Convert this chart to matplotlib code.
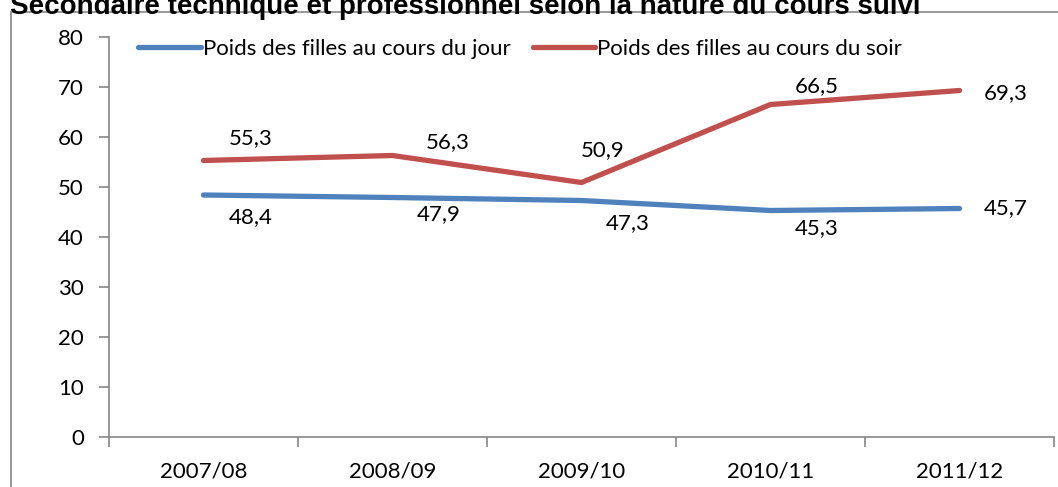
import numpy as np
import matplotlib.pyplot as plt
from matplotlib.patches import Rectangle
from matplotlib.ticker import FixedLocator

# Data
years = ['2007/08', '2008/09', '2009/10', '2010/11', '2011/12']
jour = [48.4, 47.9, 47.3, 45.3, 45.7]
soir = [55.3, 56.3, 50.9, 66.5, 69.3]

# label offsets in points (hand placed like in the original)
off_jour = [(34, -16), (33, -12), (33, -16), (33, -13), (33, 0)]
off_soir = [(34, 16), (40, 10), (15, 23), (33, 13), (33, -2)]

plt.rcParams['font.family'] = ['Lato', 'DejaVu Sans']
grey = '#868686'
fs = 16

fig = plt.figure(figsize=(10.58, 4.87), dpi=100)

# outer chart frame (cut off at right/bottom)
fig.patches.append(Rectangle((11 / 1058, -0.1), 1.2, 1 - 12 / 487 + 0.1,
                             transform=fig.transFigure, fill=False,
                             edgecolor=grey, linewidth=1.2))

# title, clipped at the top of the picture
fig.text(10 / 1058, 1 - 14 / 487,
         'Secondaire technique et professionnel selon la nature du cours suivi',
         fontsize=20, fontweight='bold', family='Liberation Sans',
         ha='left', va='baseline')

ax = fig.add_axes([109 / 1058, 1 - 437 / 487, 945 / 1058, 400 / 487])
x = np.arange(len(years))
ax.plot(x, jour, color='#4F81BD', linewidth=3.8, solid_capstyle='round',
        label='Poids des filles au cours du jour')
ax.plot(x, soir, color='#C0504D', linewidth=3.8, solid_capstyle='round',
        label='Poids des filles au cours du soir')

for i in range(len(years)):
    ax.annotate(f'{jour[i]:.1f}'.replace('.', ','), (x[i], jour[i]),
                xytext=off_jour[i], textcoords='offset points',
                ha='center', va='center', fontsize=fs)
    ax.annotate(f'{soir[i]:.1f}'.replace('.', ','), (x[i], soir[i]),
                xytext=off_soir[i], textcoords='offset points',
                ha='center', va='center', fontsize=fs)

ax.set_xlim(-0.5, 4.5)
ax.set_ylim(0, 80)
ax.set_yticks(np.arange(0, 81, 10))
ax.xaxis.set_major_locator(FixedLocator(np.arange(-0.5, 4.6, 1)))
ax.xaxis.set_major_formatter(plt.NullFormatter())
ax.xaxis.set_minor_locator(FixedLocator(x))
ax.set_xticklabels(years, minor=True)
ax.tick_params(axis='x', which='major', direction='out', length=7,
               color=grey, width=1.2)
ax.tick_params(axis='x', which='minor', length=0, pad=18, labelsize=fs)
ax.tick_params(axis='y', direction='out', length=7, color=grey, width=1.2,
               pad=11, labelsize=fs)

for s in ['top', 'right']:
    ax.spines[s].set_visible(False)
for s in ['left', 'bottom']:
    ax.spines[s].set_color(grey)
    ax.spines[s].set_linewidth(1.2)

ax.legend(loc='upper left', bbox_to_anchor=(0.01, 1.045), ncol=2, frameon=False,
          fontsize=fs, handlelength=2.8, handletextpad=0.1, columnspacing=1.0)

plt.savefig('out.png', dpi=100)
